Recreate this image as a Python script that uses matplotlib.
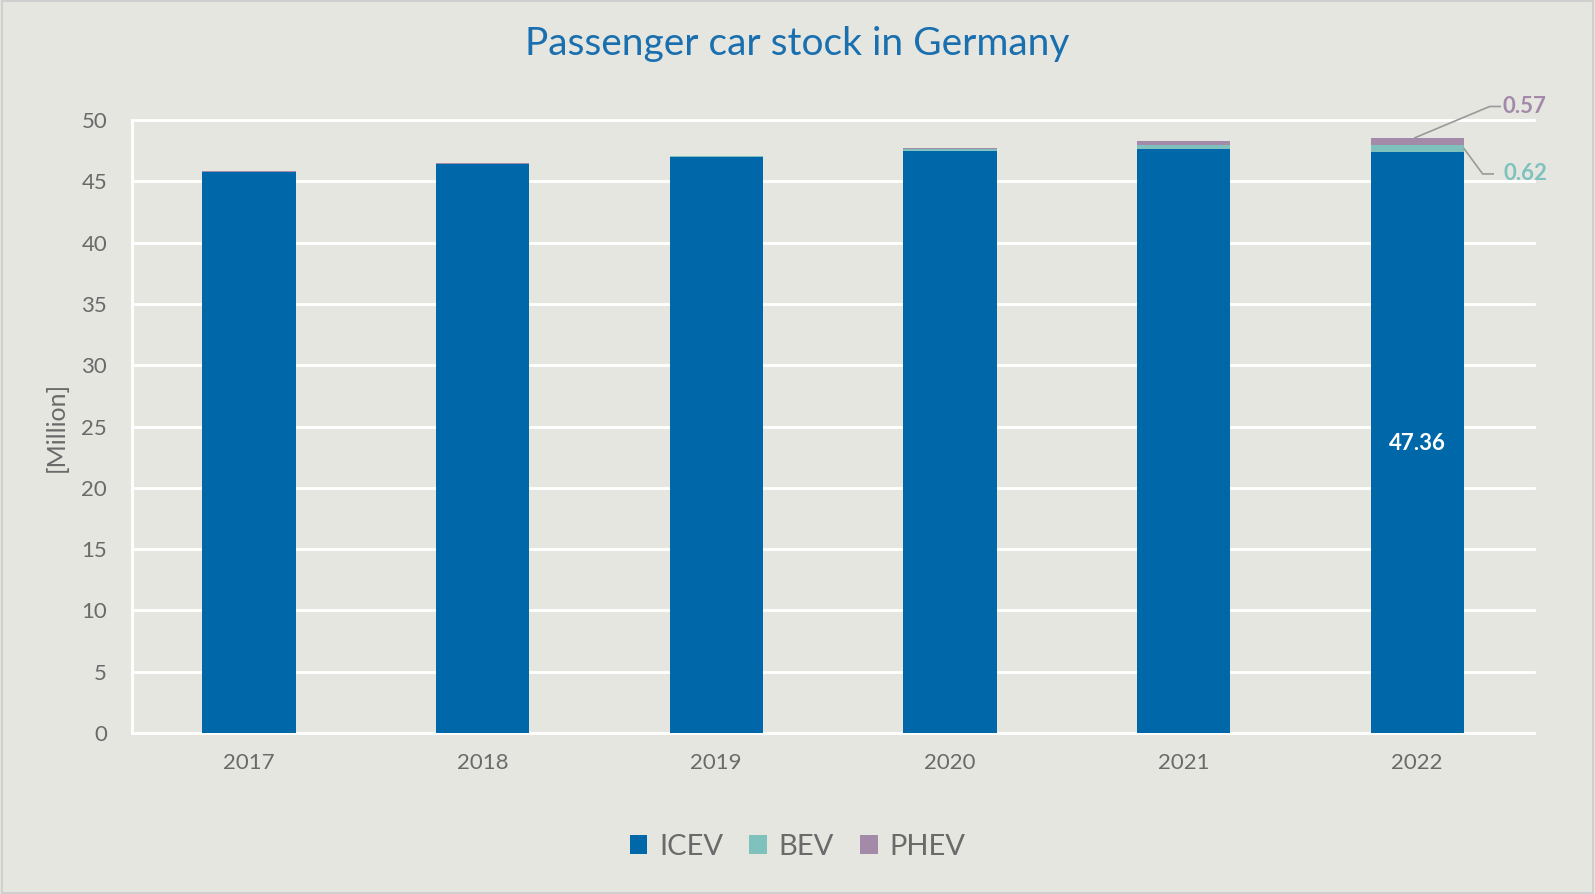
import matplotlib
matplotlib.use("Agg")
import matplotlib.pyplot as plt
import numpy as np

years = ["2017", "2018", "2019", "2020", "2021", "2022"]
icev = [45.75, 46.38, 46.95, 47.47, 47.66, 47.36]
bev = [0.03, 0.05, 0.08, 0.14, 0.31, 0.62]
phev = [0.02, 0.04, 0.07, 0.10, 0.28, 0.57]
series_names = ["ICEV", "BEV", "PHEV"]
colors = ["#0068a9", "#7fc2bd", "#a38aa9"]

bg = "#e6e6e1"
text_gray = "#6a6a6a"

plt.rcParams["font.family"] = ["Lato", "DejaVu Sans"]

fig = plt.figure(figsize=(15.95, 8.94), dpi=100, facecolor=bg)
ax = fig.add_axes([0.0828, 0.180, 0.879, 0.6858], facecolor=bg)

x = np.arange(len(years))
w = 0.40
icev_a = np.array(icev)
bev_a = np.array(bev)
phev_a = np.array(phev)
ax.bar(x, icev_a, w, color=colors[0], label=series_names[0], zorder=3)
ax.bar(x, bev_a, w, bottom=icev_a, color=colors[1], label=series_names[1], zorder=3)
ax.bar(x, phev_a, w, bottom=icev_a + bev_a, color=colors[2], label=series_names[2], zorder=3)

ax.set_xlim(-0.5, len(years) - 0.5)
ax.set_ylim(0, 50)
ax.set_yticks(np.arange(0, 51, 5))
ax.set_xticks(x)
ax.set_xticklabels(years)
ax.yaxis.grid(True, color="white", linewidth=2, zorder=0)
for gl in ax.get_ygridlines():
    gl.set_clip_on(False)
ax.set_axisbelow(True)
for s in ["top", "right"]:
    ax.spines[s].set_visible(False)
ax.spines["left"].set_color("white")
ax.spines["left"].set_linewidth(2)
ax.spines["bottom"].set_color("white")
ax.spines["bottom"].set_linewidth(2)
ax.tick_params(length=0, labelsize=16, labelcolor=text_gray, pad=14)
ax.tick_params(axis="y", pad=18)

ax.set_ylabel("[Million]", fontsize=18, color=text_gray, labelpad=10)

fig.text(0.5, 0.951, "Passenger car stock in Germany", ha="center", va="center",
         fontsize=28, color="#1a6faf")

# value labels for the latest year
last = len(years) - 1
ax.text(last, 23.6, f"{icev[last]:.2f}", ha="center", va="center", color="white",
        fontsize=16, fontweight="bold", zorder=5)

# BEV leader line
bev_mid = icev[last] + bev[last] / 2
ax.plot([last + w / 2, last + 0.28, last + 0.325], [bev_mid, 45.6, 45.6],
        color="#999999", lw=1.2, clip_on=False, zorder=4)
ax.text(last + 0.37, 45.6, f"{bev[last]:.2f}", ha="left", va="center",
        color=colors[1], fontsize=16, fontweight="bold", clip_on=False)

# PHEV leader line
phev_top = icev[last] + bev[last] + phev[last]
ax.plot([last - 0.01, last + 0.31, last + 0.355], [phev_top, 51.1, 51.1],
        color="#999999", lw=1.2, clip_on=False, zorder=4)
ax.text(last + 0.365, 51.1, f"{phev[last]:.2f}", ha="left", va="center",
        color=colors[2], fontsize=16, fontweight="bold", clip_on=False)

leg = fig.legend(loc="center", bbox_to_anchor=(0.5, 0.053), ncol=3, frameon=False,
                 fontsize=21, handlelength=0.6, handleheight=0.6, handletextpad=0.4,
                 columnspacing=0.9, labelcolor=text_gray)

# thin frame around the figure
fig.patches.append(plt.Rectangle((0.001, 0.001), 0.998, 0.998, transform=fig.transFigure,
                                 fill=False, edgecolor="#cfcfcf", linewidth=1.5))

fig.savefig("out.png", dpi=100, facecolor=bg)
